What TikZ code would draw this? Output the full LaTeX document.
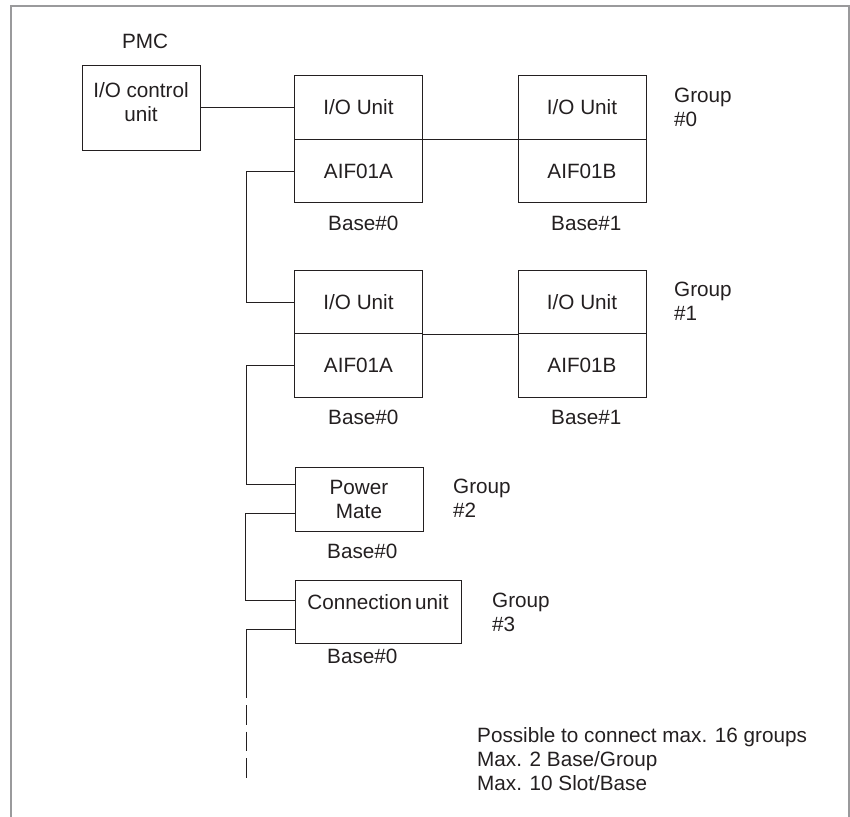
\documentclass[tikz,border=0pt]{standalone}
\usepackage{fontspec}
\setmainfont{Liberation Sans}
\definecolor{ink}{HTML}{231F20}
\definecolor{framegray}{HTML}{9A9A9C}

\begin{document}
\begin{tikzpicture}[x=1pt,y=-1pt,
  every node/.style={font=\fontsize{20.7}{24}\selectfont,text=ink,inner sep=0pt},
  box/.style={draw=ink,line width=1pt,minimum width=128pt,minimum height=63.5pt},
  wire/.style={draw=ink,line width=1pt},
  baselbl/.style={anchor=base west},
  grp/.style={align=left,anchor=base west}]
\useasboundingbox (0,0) rectangle (850,816);
\draw[framegray,line width=1.8pt] (11,830)--(11,6)--(849,6)--(849,830);

%PMC
\node (pmc) at (145,41) {PMC};
\node[box,minimum width=118pt,minimum height=85pt,align=center,text depth=12pt] (ioc) at (141,107.5) {I/O control\\unit};

%Group 0
\node[box] (io0a) at (358.5,107.5) {I/O Unit}; \node[box] (aif0a) at (358.5,171) {AIF01A};
\node[box] (io0b) at (582,107.5) {I/O Unit}; \node[box] (aif0b) at (582,171) {AIF01B};
\node[baselbl] (b0a) at (328,230) {Base\#0}; \node[baselbl] (b0b) at (551,230) {Base\#1};
\node[grp] (g0) at (674,126) {Group\\\#0};

%Group 1
\node[box] (io1a) at (358.5,302) {I/O Unit}; \node[box] (aif1a) at (358.5,365.5) {AIF01A};
\node[box] (io1b) at (582,302) {I/O Unit}; \node[box] (aif1b) at (582,365.5) {AIF01B};
\node[baselbl] (b1a) at (328,424) {Base\#0}; \node[baselbl] (b1b) at (551,424) {Base\#1};
\node[grp] (g1) at (674,320) {Group\\\#1};

%Group 2 and 3
\node[box,minimum height=64pt,align=center] (pm) at (359,499) {Power\\Mate};
\node[baselbl] (b2) at (327,558) {Base\#0};
\node[grp] (g2) at (453,517) {Group\\\#2};
\node[box,minimum width=166pt,minimum height=63pt,text depth=20pt] (cu) at (378,611.5) {Connection\hspace{0.15em}unit};
\node[baselbl] (b3) at (327,663) {Base\#0};
\node[grp] (g3) at (492,631) {Group\\\#3};

\node[grp] (note) at (477,790) {Possible to connect max. 16 groups\\Max. 2 Base/Group\\Max. 10 Slot/Base};

%connections
\coordinate (tail) at (246,698); \coordinate (tailend) at (246,778);
\draw[wire] (ioc.east)--(io0a.west);
\draw[wire] (io0a.south east)--(io0b.south west); \draw[wire] (io1a.south east)--(io1b.south west);
\draw[wire] (aif0a.west)--++(-48,0)|-(io1a.west);
\draw[wire] (aif1a.west)--++(-48,0)|-([yshift=14.5pt]pm.west);
\draw[wire] ([yshift=-14pt]pm.west)--++(-49,0)|-([yshift=11.5pt]cu.west);
\draw[wire] ([yshift=-17.5pt]cu.west)-|(tail);
\draw[wire,dash pattern=on 19.5pt off 7pt] ([yshift=-7pt]tail)--(tailend);

\end{tikzpicture}
\end{document}
